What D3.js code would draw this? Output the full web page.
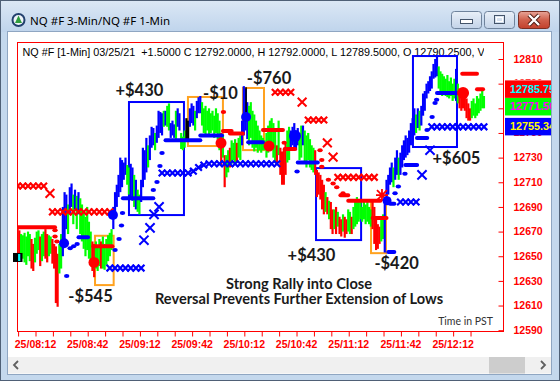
<!DOCTYPE html>
<html><head><meta charset="utf-8">
<script src="https://cdn.jsdelivr.net/npm/d3@7"></script>
<style>
html,body{margin:0;padding:0;background:#fff;overflow:hidden;}
svg{display:block;}
</style></head><body>
<svg id="c" width="560" height="381"></svg>
<script>
// ---------- DATA ----------
const titleText = "NQ #F 3-Min/NQ #F 1-Min";
const headerText = "NQ #F [1-Min] 03/25/21  +1.5000 C 12792.0000, H 12792.0000, L 12789.5000, O 12790.2500, V 125";
// 1-minute bars, minute index from 08:02
const barHigh = [
12672,12671,12668,12667,12669,12666,12670,12668,12664,12660,
12665,12670,12671,12666,12668,12670,12672,12668,12667,12666,
12664,12660,12658,12652,12660,12668,12690,12702,12700,12692,
12706,12709,12700,12704,12699,12702,12697,12692,12686,12682,
12690,12678,12670,12662,12660,12662,12658,12664,12662,12666,
12660,12664,12667,12669,12672,12690,12702,12708,12716,12730,
12728,12726,12730,12724,12722,12725,12722,12716,12712,12704,
12700,12712,12738,12736,12746,12740,12748,12755,12754,12750,
12756,12768,12767,12766,12768,12768,12772,12774,12758,12760,
12757,12768,12770,12766,12750,12747,12752,12762,12760,12770,
12774,12772,12768,12776,12779,12780,12775,12770,12772,12768,
12770,12766,12768,12764,12770,12766,12760,12750,12748,12732,
12732,12736,12738,12744,12742,12745,12742,12746,12748,12760,
12788,12786,12775,12772,12775,12768,12765,12760,12756,12752,
12748,12746,12744,12750,12756,12760,12762,12758,12754,12740,
12760,12738,12735,12737,12742,12752,12755,12752,12755,12758,
12752,12754,12750,12756,12756,12752,12748,12750,12745,12740,
12738,12736,12720,12718,12716,12712,12708,12702,12698,12695,
12694,12688,12688,12690,12686,12682,12680,12684,12682,12680,
12688,12686,12682,12690,12694,12698,12696,12694,12690,12695,
12692,12694,12690,12688,12694,12690,12680,12676,12674,12680,
12684,12698,12712,12716,12722,12726,12722,12730,12736,12730,
12734,12740,12744,12748,12746,12752,12758,12762,12770,12765,
12770,12768,12772,12782,12784,12790,12792,12796,12800,12806,
12810,12812,12804,12800,12798,12796,12794,12797,12792,12795,
12790,12794,12802,12790,12786,12784,12786,12780,12778,12774,
12770,12776,12778,12774,12780,12778,12782,12786,12780];
const barLow = [
12648,12646,12652,12648,12645,12643,12650,12646,12640,12638,
12645,12652,12655,12642,12646,12650,12648,12645,12650,12652,
12644,12640,12612,12609,12636,12640,12650,12660,12672,12668,
12684,12690,12676,12688,12672,12684,12668,12662,12656,12650,
12655,12648,12644,12638,12633,12640,12638,12642,12640,12640,
12639,12643,12646,12650,12655,12672,12682,12690,12698,12702,
12706,12712,12716,12708,12700,12698,12695,12690,12688,12686,
12684,12694,12706,12712,12718,12722,12728,12738,12740,12736,
12742,12746,12750,12748,12755,12756,12755,12752,12746,12748,
12746,12745,12755,12752,12737,12736,12738,12743,12744,12755,
12758,12756,12752,12762,12766,12766,12756,12750,12748,12752,
12748,12750,12752,12746,12750,12745,12736,12724,12730,12706,
12714,12718,12722,12725,12728,12724,12726,12730,12728,12740,
12748,12752,12745,12740,12746,12738,12735,12738,12734,12736,
12734,12736,12736,12730,12734,12738,12740,12730,12726,12724,
12732,12716,12708,12708,12716,12726,12728,12738,12740,12738,
12736,12740,12728,12730,12740,12726,12722,12728,12722,12720,
12718,12716,12698,12700,12696,12688,12684,12686,12684,12680,
12672,12668,12672,12668,12674,12668,12666,12670,12665,12668,
12670,12668,12668,12672,12674,12676,12678,12680,12678,12680,
12676,12678,12676,12674,12672,12660,12655,12656,12660,12662,
12664,12653,12692,12700,12708,12710,12706,12712,12716,12712,
12716,12722,12728,12730,12732,12734,12740,12744,12748,12750,
12754,12752,12756,12764,12768,12778,12782,12784,12786,12794,
12795,12796,12786,12782,12780,12782,12780,12779,12778,12780,
12776,12778,12776,12774,12770,12768,12770,12768,12762,12760,
12760,12762,12764,12762,12764,12766,12768,12770,12770];
const barColor = [
"rrggggggrr","gggrggrrgg","rrrrggbbbg","bbgbgbgggg","gggrrgggrg",
"gggggbbbbb","bbbggbbgbg","gbbbbgbbbg","bbbbgbggbb","bgbbgggkkb",
"bbgbbbgggg","gggggggrgr","ggrgggrggb","bbbggggggg","gggggggggr",
"grrrrggbbb","bbggbggggg","grrrrrrgrg","rrgrgrrgrr","ggrggggggg",
"ggggrrrrrg","gbbbbbgbbg","bbbbbbbbbg","bgbbbbbbbb","bbgggggggg",
"ggbgrrrrrr","rgggggggg"].join("");

// axes
const xTickMinutes = [0,10,20,30,40,50,60,70,80,90,100,110,120,130,140,150,160,170,180,190,200,210,220,230,240,250,260];
const xLabelMinutes = [10,40,70,100,130,160,190,220,250];
const xLabels = ["25/08:12","25/08:42","25/09:12","25/09:42","25/10:12","25/10:42","25/11:12","25/11:42","25/12:12"];
const yTicks = [12590,12610,12630,12650,12670,12690,12710,12730,12750,12770,12790,12810];
const yHiddenLabels = [12770];   // fully covered by the price tags in the reference

// indicator overlays [start minute, end minute, price]
const blueSteps = [[35,40.5,12665.5],[60.5,78,12697],[85,105,12744],[105,117.5,12748],[132.5,141,12742.5],[161,172.5,12726],[241,252.5,12782.5],[222.8,229.6,12724],[229.5,235.4,12746],[213,216.5,12653.5],[214,216.5,12692.5]];
const redSteps = [[0,21.5,12673.5],[43.5,54.5,12658],[118,123,12751.5],[122,129.5,12749.5],[141,152.5,12752.5],[153.5,159.5,12737],[185.5,190,12699.5],[190,208.5,12695],[204,212,12681],[255.5,264,12798],[264,267.5,12785.5]];
const redDots = [[21.5,12671],[21.5,12666],[22.6,12662],[118.3,12767],[153.2,12742],[173.8,12736],[174.8,12728],[174.8,12722.5],[178.6,12712],[181.3,12709],[183.4,12706],[187,12701]];
const blueDots = [[28.2,12634],[30.2,12656.5],[32.2,12658],[34.2,12660],[56,12655],[58.3,12664],[59.7,12675],[60.3,12685],[78,12703.7],[80.1,12710.2],[81.8,12723.2],[83,12733.7],[160.6,12718.7],[216.9,12701],[218.8,12706.5],[222.6,12717],[235.3,12752.4],[238.2,12763],[239.9,12774.3],[240.8,12777]];
const redXs = [[0,12707],[3,12707],[6,12707],[9,12707],[12,12707],[15,12707],
  [20,12686],[23,12686],[26,12686],[29,12686],[32,12686],[35,12686],[38,12686],[41,12686],[44,12686],[47,12686],[50,12686],[53,12686],
  [148,12783],[151,12783],[154,12783],[157,12783],
  [167,12760.5],[170,12760.5],[173,12760.5],[176,12760.5],
  [184,12714],[187,12714],[190,12714],[193,12714],[196,12714],[199,12714],[202,12714],[205,12714]];
const redBigXs = [[18.6,12701],[163.5,12775],[178,12742],[181.3,12730.4]];
const redStars = [[209.4,12699.6]];
const blueXs = [[53,12640.4],[56,12640.4],[59,12640.4],[62,12640.4],[65,12640.4],[68,12640.4],[71,12640.4],
  [83,12717.5],[86,12717.5],[89,12717.5],[92,12717.5],[95,12717.5],[98,12717.5],[101,12719],[104,12722],[107,12724],
  [110,12725],[113,12725],[116,12725],[119,12725],[122,12725],[125,12725],[128,12725],[131,12725],[134,12725],[137,12725],[140,12725],[143,12725],[146,12725],[149,12725],
  [220,12694],[223,12694],[226,12694],[229,12694],
  [238,12755],[241,12755],[244,12755],[247,12755],[250,12755],[253,12755],[256,12755],[259,12755],[262,12755],[265,12755],[268,12755]];
const blueBigXs = [[72.6,12663],[76.1,12673],[78.4,12684],[81.3,12690],[232.4,12716],[237,12736]];
const circles = [[26.7,12660.6,"b",5],[43.9,12645,"r",5.5],[54.8,12683.4,"b",5],[116.9,12741.8,"r",5.5],[131.3,12762.9,"b",5],[144.5,12739.4,"r",5.5],[159.4,12747.5,"b",6],[212.3,12695,"b",4.5],[256,12782.4,"r",6]];
const blackMarks = [[131.3,12787,12760.5]];
const lastPrice = [0,12649];

// trade boxes [start, end, top price, bottom price, kind]
const tradeBoxes = [[44.5,55.2,12666.6,12626.6,"o"],[64,95.6,12775.1,12683.4,"b"],[97.9,118,12779.2,12739.4,"o"],[129.5,141.6,12786.5,12736.1,"o"],[171.5,197.4,12721.5,12663.1,"b"],[203.1,211.7,12695.6,12652.5,"o"],[227.2,252.5,12812.4,12738.6,"b"]];
const tradeLabels = [["+$430",70,12780],["-$10",116.6,12777.5],["-$760",144.5,12789.7],["-$545",41.9,12612.8],["+$430",168.9,12646],["-$420",217.8,12639.5],["+$605",252.2,12724.8]];
const noteLines = ["Strong Rally into Close","Reversal Prevents Further Extension of Lows"];
const tagValues = ["12785.75","12771.50","12755.34"];
const tagBg = ["#ff0000","#00ff00","#0000ff"];
const tagFg = ["#00ffff","#ff00ff","#ffff00"];

// ---------- DRAW ----------
const svg = d3.select("#c");
const L=17,R=503,T=42,B=331;
const x = d3.scaleLinear().domain([0,279]).range([17.6,503.1]);
const y = d3.scaleLinear().domain([12590,12810]).range([330.2,59]);
const col = {r:"#ff0000",g:"#00ff00",b:"#0000ff",k:"#000000",o:"#ffa21f"};

const defs = svg.append("defs");
const tg = defs.append("linearGradient").attr("id","tg").attr("x1",0).attr("y1",0).attr("x2",0).attr("y2",1);
tg.append("stop").attr("offset",0).attr("stop-color","#dce8f5");
tg.append("stop").attr("offset",1).attr("stop-color","#bfd4ec");
const bg1 = defs.append("linearGradient").attr("id","bg1").attr("x1",0).attr("y1",0).attr("x2",0).attr("y2",1);
bg1.append("stop").attr("offset",0).attr("stop-color","#e9f0f8");
bg1.append("stop").attr("offset",1).attr("stop-color","#c3d3e8");
const bg2 = defs.append("linearGradient").attr("id","bg2").attr("x1",0).attr("y1",0).attr("x2",0).attr("y2",1);
bg2.append("stop").attr("offset",0).attr("stop-color","#e8a598");
bg2.append("stop").attr("offset",0.5).attr("stop-color","#d0604c");
bg2.append("stop").attr("offset",1).attr("stop-color","#c2402c");
defs.append("clipPath").attr("id","hclip").append("rect").attr("x",18).attr("y",43).attr("width",466).attr("height",20);
defs.append("clipPath").attr("id","pclip").append("rect").attr("x",L).attr("y",T).attr("width",R-L).attr("height",B-T);
const yc = defs.append("clipPath").attr("id","yclip");
yc.append("rect").attr("x",504).attr("y",40).attr("width",56).attr("height",39.8);
yc.append("rect").attr("x",504).attr("y",135).attr("width",56).attr("height",210);

// window chrome
svg.append("rect").attr("width",560).attr("height",381).attr("fill","#c4d8ed");
svg.append("rect").attr("width",560).attr("height",32).attr("fill","url(#tg)");
svg.append("rect").attr("x",8).attr("y",32).attr("width",543).attr("height",342).attr("fill","#ffffff");
svg.append("rect").attr("x",7.5).attr("y",31.5).attr("width",544).attr("height",343).attr("fill","none").attr("stroke","#8fa6c2");
svg.append("rect").attr("x",0.5).attr("y",0.5).attr("width",559).attr("height",380).attr("fill","none").attr("stroke","#4f6076");
// icon + title
svg.append("circle").attr("cx",18.5).attr("cy",20).attr("r",7).attr("fill","#22406e");
svg.append("circle").attr("cx",18.5).attr("cy",20).attr("r",5).attr("fill","#eef3f8");
svg.append("path").attr("d","M18.5,15.5L22,23L15,23Z").attr("fill","#2f9d3e");
svg.append("text").attr("x",30).attr("y",24.5).attr("font-family","'Noto Sans',sans-serif").attr("font-size",11.5).attr("fill","#000").text(titleText);
// buttons
[[451,30],[484,30]].forEach(([bx,bw])=>{
  svg.append("rect").attr("x",bx+0.5).attr("y",11.5).attr("width",bw).attr("height",17).attr("rx",3).attr("fill","url(#bg1)").attr("stroke","#6f839c");
});
svg.append("rect").attr("x",460.5).attr("y",19.5).attr("width",12).attr("height",4).attr("fill","#fff").attr("stroke","#44546a");
svg.append("rect").attr("x",494.5).attr("y",15.5).attr("width",10).attr("height",8).attr("fill","none").attr("stroke","#44546a").attr("stroke-width",1);
svg.append("rect").attr("x",496.5).attr("y",17.5).attr("width",6).attr("height",4).attr("fill","none").attr("stroke","#fff").attr("stroke-width",1);
svg.append("rect").attr("x",518.5).attr("y",11.5).attr("width",31).attr("height",17).attr("rx",3).attr("fill","url(#bg2)").attr("stroke","#7a2e22");
svg.append("path").attr("d","M529,15L539,25M539,15L529,25").attr("stroke","#4a1a12").attr("stroke-width",4.2);
svg.append("path").attr("d","M529,15L539,25M539,15L529,25").attr("stroke","#ffffff").attr("stroke-width",2.4);
// scrollbar
svg.append("rect").attr("x",8).attr("y",357).attr("width",543).attr("height",16.5).attr("fill","#f0f0f0");
svg.append("rect").attr("x",489).attr("y",357).attr("width",36).attr("height",16.5).attr("fill","#cdcdcd");
svg.append("path").attr("d","M18,361L14,365L18,369").attr("fill","none").attr("stroke","#606060").attr("stroke-width",1.8);
svg.append("path").attr("d","M541,361L545,365L541,369").attr("fill","none").attr("stroke","#606060").attr("stroke-width",1.8);

// plot frame
svg.append("rect").attr("x",L+0.5).attr("y",T+0.5).attr("width",R-L).attr("height",B-T).attr("fill","#fff").attr("stroke","#ff0000");

// header text
svg.append("text").attr("clip-path","url(#hclip)").attr("x",22.5).attr("y",56).attr("font-family","'Liberation Sans',Arial,sans-serif")
  .attr("font-size",10.8).attr("fill","#000").style("white-space","pre").text(headerText);

// axes
const xAxis = d3.axisBottom(x).tickValues(xTickMinutes).tickSize(5).tickPadding(4.5)
  .tickFormat(t => { const i = xLabelMinutes.indexOf(t); return i>=0 ? xLabels[i] : ""; });
const gx = svg.append("g").attr("transform",`translate(0,${B+0.5})`).call(xAxis);
gx.select(".domain").remove();
gx.selectAll("line").attr("stroke","#ff0000").attr("transform","translate(0.5,0)");
gx.selectAll("text").attr("fill","#ff0000").attr("font-family","'Liberation Sans',Arial,sans-serif").attr("font-size",10.5).attr("font-weight","bold");

const yAxis = d3.axisRight(y).tickValues(yTicks).tickSize(-5).tickPadding(10)
  .tickFormat(v => yHiddenLabels.includes(v) ? "" : d3.format("d")(v));
const gy = svg.append("g").attr("transform",`translate(${R+0.5},0)`).call(yAxis);
gy.select(".domain").remove();
gy.selectAll("line").attr("stroke","#ff0000");
gy.selectAll("text").attr("fill","#ff0000").attr("font-family","'Liberation Sans',Arial,sans-serif").attr("font-size",10.5).attr("font-weight","bold");
gy.selectAll(".tick").filter(d => d===12790 || d===12750).select("text")
  .attr("clip-path","url(#yclip)").attr("transform",d=>`translate(0,0)`);
// clip in svg coordinates: wrap clipped labels by re-parenting into an absolute group
gy.selectAll(".tick").filter(d => d===12790 || d===12750).each(function(d){
  const t = d3.select(this).select("text");
  const txt = t.text(); t.remove();
  svg.append("g").attr("clip-path","url(#yclip)").append("text")
    .attr("x",R+0.5+10).attr("y",y(d)).attr("dy","0.32em")
    .attr("fill","#ff0000").attr("font-family","'Liberation Sans',Arial,sans-serif").attr("font-size",10.5).attr("font-weight","bold").text(txt);
});

const P = svg.append("g").attr("clip-path","url(#pclip)");

// trade boxes
P.selectAll("rect.tb").data(tradeBoxes).join("rect").attr("class","tb")
  .attr("x",d=>x(d[0])).attr("y",d=>y(d[2])).attr("width",d=>x(d[1])-x(d[0])).attr("height",d=>y(d[3])-y(d[2]))
  .attr("fill","none").attr("stroke",d=>col[d[4]]).attr("stroke-width",2);

// bars
P.selectAll("line.bar").data(barHigh.map((h,i)=>[i,h,barLow[i],barColor[i]])).join("line").attr("class","bar")
  .attr("x1",d=>x(d[0])).attr("x2",d=>x(d[0]))
  .attr("y1",d=>y(d[1])).attr("y2",d=>Math.max(y(d[2]),y(d[1])+1))
  .attr("stroke",d=>col[d[3]]).attr("stroke-width",2.2);

// black marks
P.selectAll("line.bk").data(blackMarks).join("line").attr("class","bk")
  .attr("x1",d=>x(d[0])).attr("x2",d=>x(d[0])).attr("y1",d=>y(d[1])).attr("y2",d=>y(d[2])).attr("stroke","#000").attr("stroke-width",1.6);

// step lines
function steps(data,c){
  P.append("g").selectAll("line").data(data).join("line")
   .attr("x1",d=>x(d[0])).attr("x2",d=>x(d[1])).attr("y1",d=>y(d[2])).attr("y2",d=>y(d[2]))
   .attr("stroke",c).attr("stroke-width",4).attr("stroke-linecap","round");
}
steps(blueSteps,col.b); steps(redSteps,col.r);

// dots
function dots(data,c){
  P.append("g").selectAll("ellipse").data(data).join("ellipse")
   .attr("cx",d=>x(d[0])).attr("cy",d=>y(d[1])).attr("rx",2.7).attr("ry",2).attr("fill",c);
}
dots(redDots,col.r); dots(blueDots,col.b);

// X markers
function xs(data,c,s,w){
  P.append("g").selectAll("path").data(data).join("path")
   .attr("d",d=>{const cx=x(d[0]),cy=y(d[1]);return `M${cx-s},${cy-s}L${cx+s},${cy+s}M${cx-s},${cy+s}L${cx+s},${cy-s}`;})
   .attr("stroke",c).attr("stroke-width",w).attr("fill","none");
}
xs(redXs,col.r,3.3,2.2); xs(redBigXs,col.r,4.4,2);
xs(blueXs,col.b,3.3,2.2); xs(blueBigXs,col.b,4.6,2);
P.append("g").selectAll("path").data(redStars).join("path")
  .attr("d",d=>{const cx=x(d[0]),cy=y(d[1]);return `M${cx-5},${cy-5}L${cx+5},${cy+5}M${cx-5},${cy+5}L${cx+5},${cy-5}M${cx-6},${cy}L${cx+6},${cy}M${cx},${cy-6}L${cx},${cy+6}`;})
  .attr("stroke",col.r).attr("stroke-width",1.8).attr("fill","none");

// circles
P.append("g").selectAll("circle").data(circles).join("circle")
  .attr("cx",d=>x(d[0])).attr("cy",d=>y(d[1])).attr("r",d=>d[3]).attr("fill",d=>col[d[2]]);

// last price marker at left edge
svg.append("rect").attr("x",x(lastPrice[0])-4.6).attr("y",y(lastPrice[1])-4.5).attr("width",9.5).attr("height",9).attr("fill","#000");
svg.append("rect").attr("x",x(lastPrice[0])+0.5).attr("y",y(lastPrice[1])-3.5).attr("width",2.2).attr("height",7).attr("fill","#00ffff");

// trade labels
svg.append("g").selectAll("text").data(tradeLabels).join("text")
  .attr("x",d=>x(d[1])).attr("y",d=>y(d[2])).attr("text-anchor","middle")
  .attr("font-family","Lato,'Open Sans',sans-serif").attr("font-weight","bold").attr("font-size",16.5).attr("fill","#1a1a1a")
  .text(d=>d[0]);
// note
svg.append("g").selectAll("text").data(noteLines).join("text")
  .attr("x",299).attr("y",(d,i)=>289+i*15.3).attr("text-anchor","middle")
  .attr("font-family","Lato,'Open Sans',sans-serif").attr("font-weight","bold").attr("font-size",14.6).attr("fill","#1a1a1a")
  .text(d=>d);
svg.append("text").attr("x",493).attr("y",325).attr("text-anchor","end")
  .attr("font-family","Lato,'Open Sans',sans-serif").attr("font-size",10.5).attr("fill","#333").text("Time in PST");

// price tags
tagValues.forEach((v,i)=>{
  const cy = y(+v);
  svg.append("rect").attr("x",505).attr("y",cy-8.5).attr("width",47).attr("height",17.5).attr("fill",tagBg[i]);
  svg.append("text").attr("x",510).attr("y",cy+4).attr("font-family","'Liberation Sans',Arial,sans-serif").attr("font-weight","bold")
    .attr("font-size",10.8).attr("fill",tagFg[i]).text(v);
});
// right window border over tags
svg.append("rect").attr("x",552).attr("y",32).attr("width",7.5).attr("height",343).attr("fill","#c4d8ed");
svg.append("line").attr("x1",551.5).attr("x2",551.5).attr("y1",32).attr("y2",374).attr("stroke","#8fa6c2");
svg.append("line").attr("x1",559.5).attr("x2",559.5).attr("y1",0).attr("y2",381).attr("stroke","#4f6076");
</script></body></html>
